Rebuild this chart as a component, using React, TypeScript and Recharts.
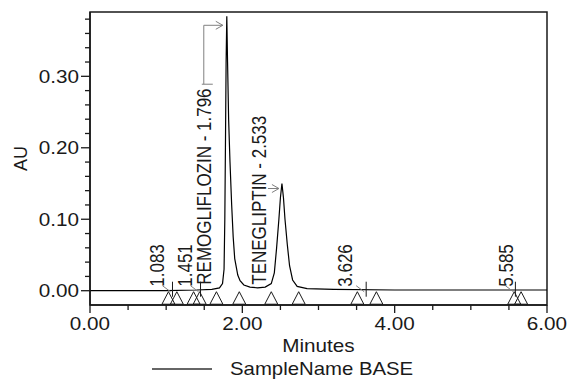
import React from 'react';
import { ComposedChart, Line, Scatter, XAxis, YAxis, ReferenceLine, ReferenceArea, Legend } from 'recharts';

// ---- data ----
const times = [0, 1.0, 1.4, 1.6, 1.7, 1.74, 1.76, 1.77, 1.778, 1.787, 1.796, 1.806, 1.82, 1.838, 1.86, 1.88, 1.9, 1.94, 1.97, 2.02, 2.1, 2.2, 2.3, 2.38, 2.42, 2.45, 2.48, 2.5, 2.52, 2.54, 2.56, 2.59, 2.62, 2.66, 2.72, 2.85, 3.2, 4.0, 6.0];
const auValues = [0.0, 0.0, 0.001, 0.002, 0.004, 0.01, 0.03, 0.1, 0.2, 0.32, 0.384, 0.32, 0.24, 0.18, 0.12, 0.075, 0.045, 0.022, 0.014, 0.008, 0.005, 0.004, 0.005, 0.01, 0.025, 0.06, 0.1, 0.13, 0.15, 0.13, 0.1, 0.065, 0.035, 0.015, 0.006, 0.003, 0.002, 0.001, 0.001];

const peakTimes = [1.083, 1.451, 1.796, 2.533, 3.626, 5.585];
const peakNames = ['', '', 'REMOGLIFLOZIN', 'TENEGLIPTIN', '', ''];
const peakApex = [0.002, 0.003, 0.384, 0.15, 0.002, 0.002];
const peakBase = [0, 0, 0, 0, 0, 0];

const markerTimes = [1.03, 1.14, 1.36, 1.44, 1.66, 1.96, 2.38, 2.74, 3.51, 3.76, 5.57, 5.66];

const xTicks = [0, 0.5, 1, 1.5, 2, 2.5, 3, 3.5, 4, 4.5, 5, 5.5, 6];
const xMajorTicks = [0, 2, 4, 6];
const yTicks = [0, 0.02, 0.04, 0.06, 0.08, 0.1, 0.12, 0.14, 0.16, 0.18, 0.2, 0.22, 0.24, 0.26, 0.28, 0.3, 0.32, 0.34, 0.36, 0.38];
const yMajorTicks = [0, 0.1, 0.2, 0.3];

const seriesName = 'SampleName BASE';
const xTitle = 'Minutes';
const yTitle = 'AU';

// ---- styling ----
const FONT = '"Liberation Sans", Arial, sans-serif';
const INK = '#1a1a1a';
const GRAY = '#808080';
const SX = 1.15; // horizontal stretch of the original's text
const LABEL_DX = [-15, -16, -23, -24, -21, -9];

const chromData = times.map((t, i) => ({ t, au: auValues[i] }));
const markerData = markerTimes.map((t) => ({ t, y: 0 }));

let ctx: CanvasRenderingContext2D | null = null;
function measure(s: string, size: number): number {
  if (!ctx) ctx = document.createElement('canvas').getContext('2d');
  if (!ctx) return s.length * size * 0.55;
  ctx.font = `${size}px "Liberation Sans"`;
  return ctx.measureText(s).width;
}

const isIn = (arr: number[], v: number) => arr.some((m) => Math.abs(m - v) < 1e-9);

function XTick(props: any) {
  const { x, y, payload } = props;
  const v = payload.value;
  const major = isIn(xMajorTicks, v);
  return (
    <g>
      <line x1={x} y1={y} x2={x} y2={y + (major ? 8 : 5)} stroke={INK} strokeWidth={1.3} />
      {major && (
        <text transform={`translate(${x},${y + 25}) scale(${SX},1)`} textAnchor="middle" fontSize={18} fontFamily={FONT} fill={INK}>
          {v.toFixed(2)}
        </text>
      )}
    </g>
  );
}

function YTick(props: any) {
  const { x, y, payload } = props;
  const v = payload.value;
  const major = isIn(yMajorTicks, v);
  return (
    <g>
      <line x1={x} y1={y} x2={x - (major ? 9 : 5)} y2={y} stroke={INK} strokeWidth={1.3} />
      {major && (
        <text transform={`translate(${x - 11},${y + 6.4}) scale(${SX},1)`} textAnchor="end" fontSize={18} fontFamily={FONT} fill={INK}>
          {v.toFixed(2)}
        </text>
      )}
    </g>
  );
}

function XTitle(props: any) {
  const vb = props.viewBox || {};
  return (
    <text transform={`translate(${vb.x + vb.width / 2},${vb.y + 47}) scale(${SX},1)`} textAnchor="middle" fontSize={18} fontFamily={FONT} fill={INK}>
      {xTitle}
    </text>
  );
}

function YTitle(props: any) {
  const vb = props.viewBox || {};
  return (
    <text transform={`translate(27,${vb.y + vb.height / 2}) rotate(-90)`} textAnchor="middle" fontSize={18} fontFamily={FONT} fill={INK}>
      {yTitle}
    </text>
  );
}

function Tri(props: any) {
  const { cx, cy } = props;
  return <path d={`M${cx},${cy + 1} L${cx + 6.5},${cy + 13.5} L${cx - 6.5},${cy + 13.5} Z`} fill="none" stroke={INK} strokeWidth={1} />;
}

function PeakMark(props: any) {
  const { x1, y1, y2, idx } = props;
  const cx = x1;
  const baseY = y1;
  const apexY = y2;
  const name = peakNames[idx];
  const t = peakTimes[idx];
  const text = name ? `${name} - ${t.toFixed(3)}` : t.toFixed(3);
  const fs = 17;
  const lx = cx + LABEL_DX[idx];
  const bottom = baseY - (name ? 6 : 4);
  const len = measure(text, fs);
  const top = bottom - len;
  const capHalf = 0.716 * fs * SX / 2;
  const label = (
    <text transform={`translate(${lx + capHalf},${bottom}) scale(${SX},1) rotate(-90)`} fontSize={fs} fontFamily={FONT} fill={INK}>
      {text}
    </text>
  );
  const head = (ax: number, ay: number) => (
    <path d={`M${ax - 7},${ay - 4} L${ax},${ay} L${ax - 7},${ay + 4}`} fill="none" stroke={GRAY} strokeWidth={1} />
  );
  if (!name) {
    return (
      <g>
        {label}
        <line x1={cx} y1={baseY - 9} x2={cx} y2={baseY + 6} stroke={INK} strokeWidth={1} />
        <line x1={cx - 10} y1={baseY - 5} x2={cx - 2} y2={baseY + 1} stroke={GRAY} strokeWidth={1} />
      </g>
    );
  }
  const tipX = cx - 4;
  if (top < apexY + 5) {
    const ay = apexY + 5;
    return (
      <g>
        {label}
        <line x1={lx + capHalf + 2} y1={ay} x2={tipX} y2={ay} stroke={GRAY} strokeWidth={1} />
        {head(tipX, ay)}
      </g>
    );
  }
  const ay = apexY + 9;
  return (
    <g>
      {label}
      <line x1={lx - 2} y1={top - 4} x2={lx + 9} y2={top - 4} stroke={GRAY} strokeWidth={1} />
      <line x1={lx} y1={top - 4} x2={lx} y2={ay} stroke={GRAY} strokeWidth={1} />
      <line x1={lx} y1={ay} x2={tipX} y2={ay} stroke={GRAY} strokeWidth={1} />
      {head(tipX, ay)}
    </g>
  );
}

function LegendContent(props: any) {
  const p = (props.payload || []).find((e: any) => e.value === seriesName);
  const label = p ? p.value : seriesName;
  return (
    <svg width={570} height={26} style={{ display: 'block' }}>
      <line x1={152} y1={12} x2={212} y2={12} stroke="#333" strokeWidth={1.5} />
      <text transform={`translate(230,18) scale(${SX},1)`} fontSize={17.7} fontFamily={FONT} fill={INK}>
        {label}
      </text>
    </svg>
  );
}

export default function App() {
  return (
    <div style={{ position: 'absolute', left: 0, top: 0, width: 570, height: 381, background: '#fff' }}>
      <ComposedChart width={570} height={381} data={chromData} margin={{ top: 12, right: 23, bottom: 46, left: 0 }}>
        <XAxis
          dataKey="t"
          type="number"
          domain={[0, 6]}
          ticks={xTicks}
          interval={0}
          allowDataOverflow
          height={30}
          tickSize={0}
          tickMargin={0}
          tickLine={false}
          axisLine={{ stroke: INK, strokeWidth: 1.5 }}
          tick={<XTick />}
          label={<XTitle />}
        />
        <YAxis
          type="number"
          domain={[-0.02, 0.39]}
          ticks={yTicks}
          interval={0}
          allowDataOverflow
          width={90}
          tickSize={0}
          tickMargin={0}
          tickLine={false}
          axisLine={{ stroke: INK, strokeWidth: 1.5 }}
          tick={<YTick />}
          label={<YTitle />}
        />
        <ReferenceArea x1={0} x2={6} y1={-0.02} y2={0.39} fill="none" fillOpacity={0} stroke={INK} strokeWidth={1.5} />
        <Line
          dataKey="au"
          name={seriesName}
          type="linear"
          stroke="#000"
          strokeWidth={1.2}
          dot={false}
          activeDot={false}
          isAnimationActive={false}
        />
        <Scatter data={markerData} dataKey="y" shape={<Tri />} legendType="none" isAnimationActive={false} />
        {peakTimes.map((t, i) => (
          <ReferenceLine
            key={t}
            segment={[
              { x: t, y: peakBase[i] },
              { x: t, y: peakApex[i] },
            ]}
            shape={(p: any) => <PeakMark {...p} idx={i} />}
          />
        ))}
        <Legend
          layout="horizontal"
          verticalAlign="middle"
          align="center"
          content={<LegendContent />}
          wrapperStyle={{ position: 'absolute', left: 0, top: 357, width: 570, height: 26, margin: 0, padding: 0 }}
        />
      </ComposedChart>
    </div>
  );
}
